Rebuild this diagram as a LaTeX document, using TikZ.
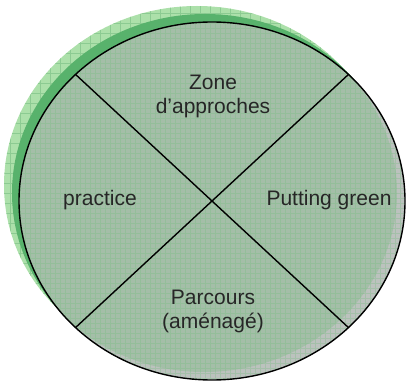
\documentclass[tikz,border=0pt]{standalone}
\usepackage{fontspec}
\setmainfont{Liberation Sans}

\definecolor{fieldgreen}{RGB}{164,190,168}
\definecolor{fieldgray}{RGB}{188,194,190}
\definecolor{shadelight}{RGB}{172,224,170}
\definecolor{shadedark}{RGB}{88,178,108}
\definecolor{gridgreen}{RGB}{120,190,130}
\definecolor{labelgray}{RGB}{38,38,38}

\tikzset{
  zone/.style={font=\fontsize{21}{24}\selectfont, text=labelgray, align=center},
  divider/.style={line width=1.4pt, black},
  field/.style={x radius=193, y radius=179},
}

\begin{document}
\begin{tikzpicture}[x=1pt,y=1pt]
  \useasboundingbox (0,0) rectangle (406,383);
  \coordinate (c) at (212,182);
  \fill[shadelight] (197,198) ellipse [field];
  \begin{scope}
    \clip (197,198) ellipse [field];
    \draw[gridgreen, opacity=0.6, line width=0.5pt] (0,0) grid[step=10] (406,383);
  \end{scope}
  \fill[shadedark] (205,190) ellipse [field];
  \begin{scope}
    \clip (c) ellipse [field];
    \fill[fieldgray] (c) ellipse [field];
    \fill[fieldgreen] (204,190) ellipse [field];
    \draw[gridgreen, opacity=0.35, line width=0.5pt] (0,0) grid[step=5] (406,383);
  \end{scope}
  \draw[divider] (c) ellipse [field];

  \coordinate (nw) at (75.5,308.6);
  \coordinate (ne) at (348.5,308.6);
  \coordinate (sw) at (75.5,55.4);
  \coordinate (se) at (348.5,55.4);
  \draw[divider] (nw) -- (se);
  \draw[divider] (ne) -- (sw);

  \node[zone] (approach) at (213,287) {Zone\\d’approches};
  \node[zone] (practice) at (100,183) {practice};
  \node[zone] (putting) at (329,183) {Putting green};
  \node[zone] (course) at (213,72) {Parcours\\(aménagé)};
\end{tikzpicture}
\end{document}
